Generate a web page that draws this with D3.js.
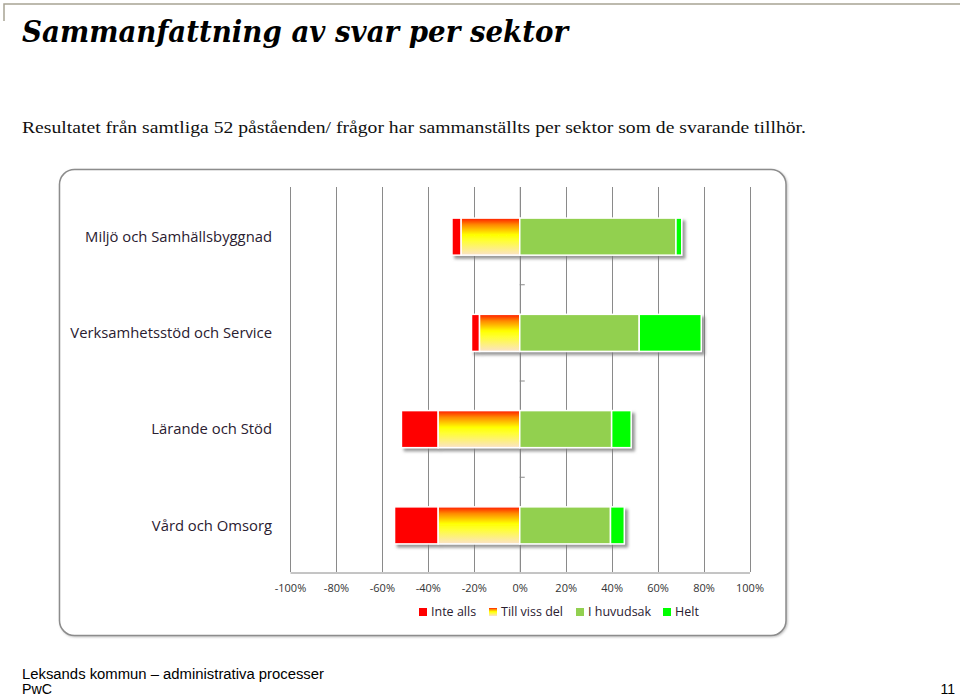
<!DOCTYPE html>
<html><head><meta charset="utf-8">
<script src="https://cdn.jsdelivr.net/npm/d3@7/dist/d3.min.js"></script>
<style>body{margin:0;background:#fff}svg{display:block}</style>
</head><body>
<script>
const categories = ["Miljö och Samhällsbyggnad","Verksamhetsstöd och Service","Lärande och Stöd","Vård och Omsorg"];
const seriesNames = ["Inte alls","Till viss del","I huvudsak","Helt"];
const inteAlls   = [4, 3.5, 16, 19];
const tillVissDel= [25.5, 17.5, 35.5, 35.5];
const iHuvudsak  = [68, 52, 40, 39.5];
const helt       = [2.5, 27, 8.5, 6];
const tickValues = [-100,-80,-60,-40,-20,0,20,40,60,80,100];
const tickLabels = ["-100%","-80%","-60%","-40%","-20%","0%","20%","40%","60%","80%","100%"];
const colors = ["#ff0000","url(#tvd)","#92d050","#00ff00"];

const W=960,H=697;
const svg=d3.select("body").append("svg").attr("width",W).attr("height",H);
const defs=svg.append("defs");
const g=defs.append("linearGradient").attr("id","tvd").attr("x1",0).attr("y1",0).attr("x2",0).attr("y2",1);
[[0,"#ff1a00"],[0.18,"#ff8a00"],[0.45,"#ffff00"],[0.6,"#ffff30"],[1,"#fbe2c8"]].forEach(s=>g.append("stop").attr("offset",s[0]).attr("stop-color",s[1]));
const f=defs.append("filter").attr("id","sh").attr("x","-10%").attr("y","-30%").attr("width","130%").attr("height","170%");
f.append("feDropShadow").attr("dx",3).attr("dy",3).attr("stdDeviation",1.5).attr("flood-color","#777").attr("flood-opacity",0.75);
const ps=defs.append("filter").attr("id","psh").attr("x","-5%").attr("y","-5%").attr("width","110%").attr("height","110%");
ps.append("feDropShadow").attr("dx",1).attr("dy",1).attr("stdDeviation",1).attr("flood-color","#999").attr("flood-opacity",0.6);

// top decoration
svg.append("path").attr("d","M4,21V4H960").attr("fill","none").attr("stroke","#a8a494").attr("stroke-width",1.5);

svg.append("text").attr("x",22).attr("y",42).attr("font-family","DejaVu Serif").attr("font-weight","bold").attr("font-style","italic")
  .attr("font-size",29).attr("textLength",546).attr("lengthAdjust","spacingAndGlyphs").attr("fill","#000").text("Sammanfattning av svar per sektor");
svg.append("text").attr("x",22).attr("y",133).attr("font-family","Liberation Serif").attr("font-size",17.5)
  .attr("textLength",784).attr("lengthAdjust","spacingAndGlyphs").attr("fill","#111")
  .text("Resultatet från samtliga 52 påståenden/ frågor har sammanställts per sektor som de svarande tillhör.");

// panel
svg.append("rect").attr("x",59.5).attr("y",169.5).attr("width",726.5).attr("height",466).attr("rx",15)
  .attr("fill","#fff").attr("stroke","#8c8c8c").attr("stroke-width",1.5).attr("filter","url(#psh)");

const x=d3.scaleLinear().domain([-100,100]).range([290,749.5]);
const y=d3.scaleBand().domain(categories).range([188.5,573.5]).paddingInner(0.615).paddingOuter(0.3075);

// gridlines
svg.append("g").selectAll("line").data(tickValues).join("line")
  .attr("x1",d=>Math.round(x(d))+0.5).attr("x2",d=>Math.round(x(d))+0.5).attr("y1",187).attr("y2",572)
  .attr("stroke","#8a8a8a").attr("stroke-width",1);
// x axis
const xa=svg.append("g").attr("transform","translate(0,572.5)")
  .call(d3.axisBottom(x).tickValues(tickValues).tickFormat((d,i)=>tickLabels[i]).tickSize(0).tickPadding(12));
xa.select(".domain").attr("stroke","#8a8a8a");
xa.selectAll("text").attr("font-family","Open Sans").attr("font-size",11).attr("fill","#333");

// category ticks on zero line
const bounds=[1,2,3].map(i=>188.5+i*(385/4));
svg.append("g").selectAll("line").data(bounds).join("line")
  .attr("x1",x(0)).attr("x2",x(0)+5).attr("y1",d=>d).attr("y2",d=>d).attr("stroke","#8a8a8a");
svg.append("line").attr("x1",x(0)+0.5).attr("x2",x(0)+0.5).attr("y1",187).attr("y2",572).attr("stroke","#8a8a8a");

// bars
const rows=categories.map((c,i)=>{
  const vals=[inteAlls[i],tillVissDel[i],iHuvudsak[i],helt[i]];
  const segs=[];
  segs.push({s:0,x0:-(vals[0]+vals[1]),x1:-vals[1]});
  segs.push({s:1,x0:-vals[1],x1:0});
  segs.push({s:2,x0:0,x1:vals[2]});
  segs.push({s:3,x0:vals[2],x1:vals[2]+vals[3]});
  return {c,segs};
});
const rg=svg.append("g").selectAll("g").data(rows).join("g").attr("filter","url(#sh)");
rg.selectAll("rect").data(d=>d.segs.map(s=>({...s,c:d.c}))).join("rect")
  .attr("x",d=>x(d.x0)).attr("width",d=>x(d.x1)-x(d.x0))
  .attr("y",d=>y(d.c)).attr("height",y.bandwidth())
  .attr("fill",d=>colors[d.s]).attr("stroke","#fff").attr("stroke-width",1.5);

// category labels
svg.append("g").selectAll("text").data(categories).join("text")
  .attr("x",272).attr("y",d=>y(d)+y.bandwidth()/2).attr("dy","0.35em").attr("text-anchor","end")
  .attr("font-family","Open Sans").attr("font-size",14.8).attr("fill","#2a2030").text(d=>d);

// legend
const legX=[419,489,576,663];
const lg=svg.append("g").selectAll("g").data(seriesNames).join("g").attr("transform",(d,i)=>`translate(${legX[i]},608)`);
lg.append("rect").attr("width",8).attr("height",8).attr("fill",(d,i)=>colors[i]);
lg.append("text").attr("x",12).attr("y",4).attr("dy","0.35em").attr("font-family","Open Sans").attr("font-size",12.5)
  .attr("fill","#2a2030").text(d=>d);

// footer
svg.append("text").attr("x",22).attr("y",679).attr("font-family","Liberation Sans").attr("font-size",14)
  .attr("textLength",302).attr("lengthAdjust","spacingAndGlyphs").attr("fill","#000").text("Leksands  kommun – administrativa processer");
svg.append("text").attr("x",22).attr("y",694).attr("font-family","Liberation Sans").attr("font-size",14)
  .attr("textLength",30).attr("lengthAdjust","spacingAndGlyphs").attr("fill","#000").text("PwC");
svg.append("text").attr("x",955).attr("y",694).attr("text-anchor","end").attr("font-family","Liberation Sans").attr("font-size",14)
  .attr("fill","#000").text("11");
</script>
</body></html>
